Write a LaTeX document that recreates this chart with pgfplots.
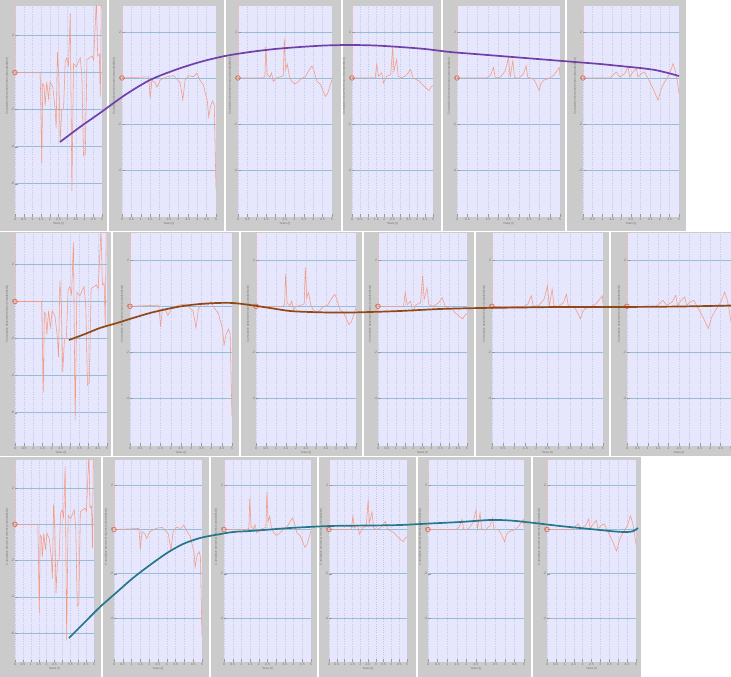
\documentclass[border=0pt]{standalone}
\usepackage{fontspec}
\setmainfont{Liberation Sans}
\usepackage{pgfplots}
\pgfplotsset{compat=1.18}
\usepackage{pgfplotstable}

\definecolor{lav}{RGB}{230,230,252}
\definecolor{frame}{RGB}{203,203,203}
\definecolor{hgrid}{RGB}{150,188,214}
\definecolor{vgrid}{RGB}{196,200,228}
\definecolor{tickc}{RGB}{110,110,110}
\definecolor{tracec}{RGB}{245,155,130}
\definecolor{markc}{RGB}{232,105,80}
\definecolor{cpurple}{RGB}{112,64,168}
\definecolor{cbrown}{RGB}{145,72,22}
\definecolor{cteal}{RGB}{38,118,140}

% panel type A: wild fluctuations
\pgfplotstableread{
x y
0 5
0 0
0.288 0
0.292 -0.6
0.308 -4.9
0.319 -0.6
0.335 -0.7
0.346 -1.8
0.365 -0.5
0.385 -1.4
0.404 -0.5
0.435 -0.8
0.462 -2.0
0.473 -3.0
0.488 1.1
0.504 -0.2
0.519 -3.8
0.538 -2.0
0.558 -2.0
0.577 0.6
0.596 0.8
0.615 0.4
0.635 3.2
0.654 -6.4
0.673 0.5
0.704 0.3
0.731 0.6
0.750 0.8
0.769 -0.2
0.788 -4.5
0.808 -4.4
0.827 0.7
0.858 0.8
0.885 0.9
0.904 0.7
0.935 3.9
0.950 0.9
0.969 1.0
0.981 -1.3
0.992 3.9
}\tabA
% panel type B: flat then dips
\pgfplotstableread{
x y
0 5
0 0
0.283 0.05
0.300 -0.9
0.318 -0.1
0.353 -0.2
0.371 -0.4
0.406 -0.1
0.477 0.05
0.548 0.1
0.618 -0.2
0.647 -0.95
0.671 -0.1
0.707 0.1
0.760 0.05
0.795 0.2
0.830 -0.1
0.866 -0.3
0.883 -0.6
0.908 -1.0
0.922 -1.7
0.943 -1.2
0.965 -1.0
0.982 -1.2
0.993 -3.5
1.000 -4.8
}\tabB
% panel type C: tall spikes
\pgfplotstableread{
x y
0 5
0 0
0.268 0
0.286 0.07
0.296 1.4
0.311 0.15
0.339 0.03
0.357 0.22
0.375 -0.15
0.411 0
0.464 0.07
0.482 0.1
0.493 1.7
0.507 0.37
0.525 0.6
0.546 0.07
0.571 -0.15
0.607 -0.27
0.643 -0.15
0.679 0
0.714 0.03
0.750 0.3
0.786 0.52
0.804 0.37
0.839 -0.15
0.875 -0.27
0.904 -0.55
0.929 -0.8
0.954 -0.67
0.982 -0.3
1.000 -0.07
}\tabC
% panel type D: spikes, drifting down
\pgfplotstableread{
x y
0 5
0 0
0.286 0
0.306 0.6
0.327 0.07
0.367 0.22
0.388 -0.22
0.429 0.07
0.478 0.15
0.502 1.35
0.518 0.3
0.551 0.8
0.571 0.07
0.612 0
0.653 0.07
0.694 0.22
0.722 0.37
0.755 0
0.796 -0.07
0.837 -0.15
0.878 -0.33
0.918 -0.45
0.951 -0.55
0.980 -0.37
1.000 -0.33
}\tabD
% panel type E: small spikes and a V dip
\pgfplotstableread{
x y
0 5
0 0
0.290 0
0.323 0.1
0.355 0.46
0.371 0
0.419 0.03
0.468 0.3
0.500 0.89
0.516 0.03
0.542 0.75
0.558 0.03
0.597 -0.02
0.645 0.17
0.671 0.53
0.687 0.03
0.742 -0.04
0.768 -0.25
0.797 -0.55
0.816 -0.25
0.839 -0.1
0.887 -0.03
0.935 0.1
0.968 0.3
0.994 0.46
1.000 0.1
}\tabE
% panel type F: small spikes and a deeper V dip
\pgfplotstableread{
x y
0 5
0 0
0.278 0
0.313 0.12
0.347 0.26
0.382 0.04
0.434 0.19
0.469 0.48
0.486 0.04
0.521 0.26
0.556 0.41
0.573 0.04
0.608 0.19
0.642 0.26
0.677 -0.03
0.729 -0.46
0.764 -0.8
0.781 -0.97
0.816 -0.46
0.851 -0.17
0.903 0.19
0.938 0.62
0.965 0.26
0.983 -0.17
1.000 -0.68
}\tabF

\pgfplotsset{
  panel/.style={
    scale only axis, clip=true,
    xmin=0, xmax=1,
    axis background/.style={fill=lav},
    axis line style={draw=none},
    xtick={0,0.1,0.2,0.3,0.4,0.5,0.6,0.7,0.8,0.9,1},
    xticklabels={0,0.5,1,1.5,2,2.5,3,3.5,4,4.5,5},
    xmajorgrids, ymajorgrids,
    x grid style={vgrid, dash pattern=on 1pt off 1.2pt, line width=0.35pt},
    y grid style={hgrid, line width=0.55pt},
    tick style={tickc!70, line width=0.3pt},
    tick align=inside, major tick length=2.5pt,
    xtick pos=bottom, ytick pos=left,
    /pgf/number format/assume math mode=true,
    ticklabel style={font=\fontsize{3.4}{3.6}\selectfont, text=tickc, inner sep=0.8pt},
    xlabel={Years (t)},
    ylabel={Cumulative abnormal returns (standardised)},
    label style={font=\fontsize{2.9}{3}\selectfont, text=tickc},
    xlabel style={inner sep=0.6pt},
    ylabel style={at={(ticklabel cs:0.62)}, inner sep=1.5pt},
  },
  trace/.style={color=tracec, line width=0.55pt},
}

\newcommand{\panel}[8]{%
\begin{axis}[panel, at={(#1pt,{677pt-#2pt})}, anchor=north west,
  width=#3pt, height=#4pt, ymin=#5, ymax=#6, ytick={#8}]
\addplot[trace] table {#7};
\addplot[only marks, mark=o, mark size=2.3pt, draw=markc, line width=0.7pt] coordinates {(0,0)};
\end{axis}}

\begin{document}
\begin{tikzpicture}
\path[use as bounding box] (0pt,0pt) rectangle (731pt,677pt);
% screenshot frames
\fill[frame] (0pt,677pt) rectangle (686pt,446pt);
\fill[frame] (0pt,446pt) rectangle (731pt,221pt);
\fill[frame] (0pt,221pt) rectangle (641pt,0pt);
\begin{scope}[white, line width=1.2pt]
\foreach \xx in {108,225,342,442,566} \draw (\xx pt,677pt) -- (\xx pt,446pt);
\foreach \xx in {112,240,363,475,610} \draw (\xx pt,446pt) -- (\xx pt,221pt);
\foreach \xx in {102,210,318,417,532} \draw (\xx pt,221pt) -- (\xx pt,0pt);
\draw[line width=0.8pt] (0pt,446pt) -- (731pt,446pt);
\draw[line width=0.8pt] (0pt,221pt) -- (641pt,221pt);
\end{scope}

% row 1
\panel{15}{6}{87}{211}{-7.8}{3.6}{\tabA}{-6,-4,-2,0,2}
\panel{122}{6}{94}{211}{-6.05}{3.13}{\tabB}{-4,-2,0,2}
\panel{238}{6}{94}{211}{-6.05}{3.13}{\tabC}{-4,-2,0,2}
\panel{352}{6}{81}{211}{-6.05}{3.13}{\tabD}{-4,-2,0,2}
\panel{457}{6}{103}{211}{-6.05}{3.13}{\tabE}{-4,-2,0,2}
\panel{583}{6}{96}{211}{-6.05}{3.13}{\tabF}{-4,-2,0,2}
% row 2
\panel{15}{233}{92}{213}{-7.8}{3.7}{\tabA}{-6,-4,-2,0,2}
\panel{130}{233}{102}{213}{-6.1}{3.2}{\tabB}{-4,-2,0,2}
\panel{256}{233}{100}{213}{-6.1}{3.2}{\tabC}{-4,-2,0,2}
\panel{378}{233}{89}{213}{-6.1}{3.2}{\tabD}{-4,-2,0,2}
\panel{492}{233}{111}{213}{-6.1}{3.2}{\tabE}{-4,-2,0,2}
\panel{627}{233}{104}{213}{-6.1}{3.2}{\tabF}{-4,-2,0,2}
% row 3
\panel{15}{460}{79}{202}{-7.6}{3.55}{\tabA}{-6,-4,-2,0,2}
\panel{114}{460}{88}{202}{-6.0}{3.15}{\tabB}{-4,-2,0,2}
\panel{224}{460}{87}{202}{-6.0}{3.15}{\tabC}{-4,-2,0,2}
\panel{329}{460}{78}{202}{-6.0}{3.15}{\tabD}{-4,-2,0,2}
\panel{428}{460}{96}{202}{-6.0}{3.15}{\tabE}{-4,-2,0,2}
\panel{547}{460}{89}{202}{-6.0}{3.15}{\tabF}{-4,-2,0,2}

% overlay curves (coordinates in picture pixels)
\begin{axis}[at={(0pt,677pt)}, anchor=north west, scale only axis,
  width=731pt, height=677pt, xmin=0, xmax=731, ymin=0, ymax=677,
  y dir=reverse, hide axis, clip=false]
\addplot[cpurple, line width=1.7pt, smooth] coordinates {
(60,142) (80,127) (100,113) (125,95) (150,80) (175,70) (200,62) (225,56)
(250,52) (275,49) (300,47) (325,45.5) (350,45) (375,45.5) (400,47) (425,49)
(450,52) (475,54) (500,56) (525,58) (550,60) (575,62) (600,64) (620,66)
(640,68) (655,70) (668,73) (679,76)};
\addplot[cbrown, line width=1.7pt, smooth] coordinates {
(69,340) (85,334) (100,328) (117,323) (133,318) (150,313) (167,309) (183,306)
(200,304) (217,303) (233,303) (250,305) (270,308) (290,311) (310,312)
(330,312.5) (350,312.5) (370,312) (400,311) (440,309) (480,308) (520,307.5)
(560,307) (620,307) (680,306.5) (731,305.5)};
\addplot[cteal, line width=1.7pt, smooth] coordinates {
(69,638) (85,622) (100,607) (117,592) (133,578) (150,565) (167,553) (183,544)
(200,538) (215,535) (233,532) (250,531) (270,529.5) (290,528) (330,526)
(370,525.5) (400,525) (430,523.5) (460,522) (490,520) (510,520.5) (530,522.5)
(560,526) (580,528) (600,530) (615,531.5) (625,532) (632,531.5) (636,529.5) (638,528)};
\end{axis}
\end{tikzpicture}
\end{document}
